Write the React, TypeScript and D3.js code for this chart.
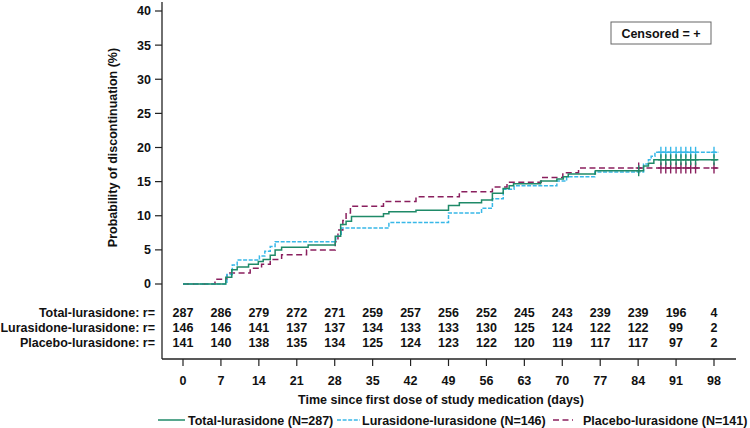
import React from "react";
import * as d3 from "d3";

const W = 750;
const H = 428;

const xTicks = [0, 7, 14, 21, 28, 35, 42, 49, 56, 63, 70, 77, 84, 91, 98];
const yTicks = [0, 5, 10, 15, 20, 25, 30, 35, 40];

const seriesNames = ["Total-lurasidone", "Lurasidone-lurasidone", "Placebo-lurasidone"];
const legendLabels = [
  "Total-lurasidone (N=287)",
  "Lurasidone-lurasidone (N=146)",
  "Placebo-lurasidone (N=141)",
];

// step change points [day, % discontinued]
const totalSteps: [number, number][] = [
  [0, 0], [7.9, 1.0], [9.0, 2.1], [10.0, 2.5], [12.1, 2.9], [13.9, 3.3], [14.8, 3.6],
  [16.1, 4.2], [17.0, 5.0], [18.2, 5.4], [23.1, 5.7], [28.1, 7.0], [29.1, 8.7],
  [30.1, 9.2], [31.1, 9.9], [37.0, 10.3], [38.0, 10.6], [43.0, 10.8], [49.0, 11.5],
  [51.0, 11.9], [55.1, 12.3], [57.1, 13.3], [59.1, 14.0], [60.2, 14.4], [61.0, 14.7],
  [66.0, 15.1], [69.0, 15.4], [70.2, 15.7], [71.1, 16.1], [76.1, 16.6], [85.0, 17.3],
  [85.9, 17.7], [86.9, 18.2],
];
const luraSteps: [number, number][] = [
  [0, 0], [8.1, 1.4], [9.1, 2.8], [10.0, 3.5], [14.1, 4.1], [15.1, 4.8], [16.1, 5.5],
  [17.0, 6.2], [28.2, 7.0], [29.2, 8.2], [38.0, 9.0], [49.0, 10.4], [55.1, 11.1],
  [57.1, 12.5], [59.1, 13.9], [61.1, 14.4], [69.0, 15.1], [70.8, 15.7], [76.0, 16.4],
  [85.0, 17.6], [85.9, 18.2], [86.4, 18.7], [87.1, 19.3],
];
const placeboSteps: [number, number][] = [
  [0, 0], [5.9, 0.7], [8.1, 1.6], [12.4, 2.3], [14.5, 2.9], [16.1, 3.6], [18.2, 4.3],
  [22.8, 5.0], [28.1, 6.2], [28.6, 7.9], [29.5, 9.3], [30.1, 10.4], [30.9, 11.4],
  [37.0, 12.1], [43.0, 12.8], [51.0, 13.5], [57.1, 14.2], [59.8, 14.9], [66.1, 15.6],
  [70.1, 16.3], [73.0, 17.0],
];
const lastDay = 98.8;

const censorTotal = [84.1, 88.2, 89.1, 90.0, 91.0, 91.9, 92.8, 93.7, 94.6, 98.0];
const censorLura = [88.2, 89.1, 90.0, 91.0, 91.9, 92.8, 93.7, 94.6, 98.0];
const censorPlacebo = [84.1, 88.2, 89.1, 90.0, 91.0, 91.9, 92.8, 93.7, 94.6, 98.0];

const riskTotal = [287, 286, 279, 272, 271, 259, 257, 256, 252, 245, 243, 239, 239, 196, 4];
const riskLura = [146, 146, 141, 137, 137, 134, 133, 133, 130, 125, 124, 122, 122, 99, 2];
const riskPlacebo = [141, 140, 138, 135, 134, 125, 124, 123, 122, 120, 119, 117, 117, 97, 2];

const colors = ["#1f8a68", "#38b8e8", "#8a1f5e"];
const dashes = ["none", "4,1.6", "6,3.5"];

const FONT = "'Liberation Sans', Arial, sans-serif";

export default function App() {
  const x = d3.scaleLinear().domain([0, 98]).range([183, 714]);
  const y = d3.scaleLinear().domain([0, 40]).range([284, 11]);

  const stepsAll = [totalSteps, luraSteps, placeboSteps];
  const censors = [censorTotal, censorLura, censorPlacebo];
  const risks = [riskTotal, riskLura, riskPlacebo];

  const line = d3
    .line<[number, number]>()
    .x((d) => x(d[0]))
    .y((d) => y(d[1]))
    .curve(d3.curveStepAfter);

  const valueAt = (steps: [number, number][], t: number) => {
    let v = 0;
    for (const s of steps) if (s[0] <= t) v = s[1];
    return v;
  };

  const axisX0 = 162;
  const axisY = 359;

  const legendItems = [
    { x1: 158, x2: 185, tx: 188 },
    { x1: 337, x2: 360, tx: 362 },
    { x1: 553, x2: 573, tx: 583 },
  ];

  return (
    <svg width={W} height={H} style={{ display: "block", position: "absolute", left: 0, top: 0 }} fontFamily={FONT} fontWeight="bold" fontSize={12.5}>
      <rect width={W} height={H} fill="#fff" />
      {/* y axis */}
      <line x1={axisX0} x2={axisX0} y1={2} y2={axisY} stroke="#222" strokeWidth={1.3} />
      {yTicks.map((t) => (
        <g key={t}>
          <line x1={155} x2={axisX0} y1={y(t)} y2={y(t)} stroke="#222" strokeWidth={1.2} />
          <text x={151} y={y(t) + 4.4} textAnchor="end" fill="#111">{t}</text>
        </g>
      ))}
      <text transform={`translate(117,${y(20)}) rotate(-90)`} textAnchor="middle" fill="#111">
        Probability of discontinuation (%)
      </text>
      {/* x axis */}
      <line x1={axisX0} x2={736} y1={axisY} y2={axisY} stroke="#222" strokeWidth={1.3} />
      {xTicks.map((t) => (
        <g key={t}>
          <line x1={x(t)} x2={x(t)} y1={axisY} y2={axisY + 7} stroke="#222" strokeWidth={1.2} />
          <text x={x(t)} y={384.5} textAnchor="middle" fill="#111">{t}</text>
        </g>
      ))}
      <text x={441} y={403.5} textAnchor="middle" fill="#111">
        Time since first dose of study medication (days)
      </text>
      {/* risk table */}
      {seriesNames.map((n, i) => (
        <g key={n}>
          <text x={155} y={317 + i * 15} textAnchor="end" fill="#111">{n}: r=</text>
          {risks[i].map((v, j) => (
            <text key={j} x={x(xTicks[j])} y={317 + i * 15} textAnchor="middle" fill="#111">{v}</text>
          ))}
        </g>
      ))}
      {/* curves */}
      {[2, 1, 0].map((i) => {
        const steps = stepsAll[i];
        const pts: [number, number][] = [...steps, [lastDay, steps[steps.length - 1][1]]];
        return (
          <g key={i}>
            <path d={line(pts) || ""} fill="none" stroke={colors[i]} strokeWidth={1.5} strokeDasharray={dashes[i]} />
            {censors[i].map((c, k) => {
              const cx = x(c);
              const cy = y(valueAt(steps, c));
              return (
                <g key={k} stroke={colors[i]} strokeWidth={1.4}>
                  <line x1={cx} x2={cx} y1={cy - 5.5} y2={cy + 5.5} />
                  <line x1={cx - 3} x2={cx + 3} y1={cy} y2={cy} />
                </g>
              );
            })}
          </g>
        );
      })}
      {/* censored box */}
      <rect x={611} y={22} width={100} height={22} fill="#fff" stroke="#666" strokeWidth={1} />
      <text x={661} y={37.5} textAnchor="middle" fill="#111">Censored = +</text>
      {/* legend */}
      {legendItems.map((l, i) => (
        <g key={i}>
          <line x1={l.x1} x2={l.x2} y1={420} y2={420} stroke={colors[i]} strokeWidth={1.5} strokeDasharray={dashes[i]} />
          <text x={l.tx} y={424.5} fill="#111">{legendLabels[i]}</text>
        </g>
      ))}
    </svg>
  );
}
